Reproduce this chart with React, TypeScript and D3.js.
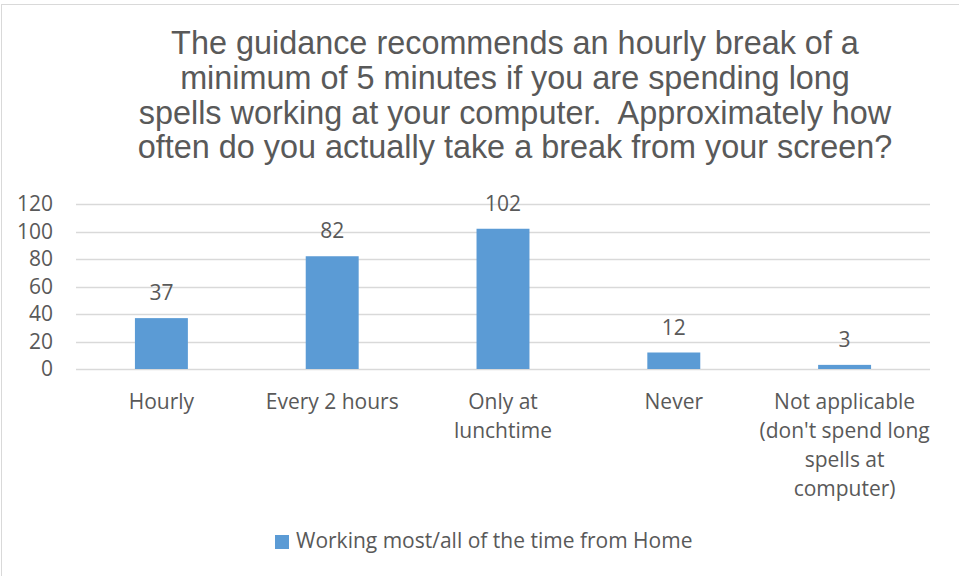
import React from 'react';
import * as d3 from 'd3';

const categories = ['Hourly', 'Every 2 hours', 'Only at lunchtime', 'Never', "Not applicable (don't spend long spells at computer)"];
const categoryLines = [
  ['Hourly'],
  ['Every 2 hours'],
  ['Only at', 'lunchtime'],
  ['Never'],
  ['Not applicable', "(don't spend long", 'spells at', 'computer)'],
];
const values = [37, 82, 102, 12, 3];
const yTicks = [0, 20, 40, 60, 80, 100, 120];
const titleLines = [
  'The guidance recommends an hourly break of a',
  'minimum of 5 minutes if you are spending long',
  'spells working at your computer.\u00A0 Approximately how',
  'often do you actually take a break from your screen?',
];
const seriesName = 'Working most/all of the time from Home';

const W = 959;
const H = 576;
const TEXT = '#595959';
const GRID = '#D9D9D9';
const BAR = '#5B9BD5';
const LABEL_FONT = '"Open Sans", Lato, sans-serif';
const LABEL_SIZE = 21;
const TITLE_FONT = '"Liberation Sans", Arial, sans-serif';

export default function App() {
  const plot = { left: 76, right: 930, top: 204, bottom: 369 };

  const x = d3.scaleBand<string>()
    .domain(categories)
    .range([plot.left, plot.right])
    .paddingInner(0.69)
    .paddingOuter(0.345);

  const y = d3.scaleLinear()
    .domain([0, 120])
    .range([plot.bottom, plot.top]);

  const bw = x.bandwidth();

  return (
    <svg width={W} height={H} style={{ position: 'absolute', left: 0, top: 0, background: '#fff' }}>
      {/* рамка области диаграммы */}
      <rect x={1.5} y={4.5} width={W + 20} height={H + 20} fill="#fff" stroke={GRID} strokeWidth={1} />

      {/* заголовок */}
      <g fill={TEXT} fontFamily={TITLE_FONT} fontSize={32.4} textAnchor="middle">
        {titleLines.map((t, i) => (
          <text key={i} x={515} y={54 + i * 34.8}>{t}</text>
        ))}
      </g>

      {/* сетка и подписи оси Y */}
      {yTicks.map(t => (
        <g key={t}>
          <line x1={plot.left} x2={plot.right} y1={Math.round(y(t)) + 0.5} y2={Math.round(y(t)) + 0.5} stroke={GRID} strokeWidth={1.5} />
          <text x={53} y={y(t)} dy="0.35em" textAnchor="end" fill={TEXT} fontFamily={LABEL_FONT} fontSize={LABEL_SIZE}>{t}</text>
        </g>
      ))}

      {/* столбцы */}
      {categories.map((c, i) => (
        <rect key={c} x={x(c)} y={y(values[i])} width={bw} height={y(0) - y(values[i])} fill={BAR} />
      ))}

      {/* подписи значений */}
      {categories.map((c, i) => (
        <text key={c} x={(x(c) ?? 0) + bw / 2} y={y(values[i]) - 18} textAnchor="middle" fill={TEXT} fontFamily={LABEL_FONT} fontSize={LABEL_SIZE}>
          {values[i]}
        </text>
      ))}

      {/* подписи категорий */}
      {categories.map((c, i) => (
        <text key={c} textAnchor="middle" fill={TEXT} fontFamily={LABEL_FONT} fontSize={LABEL_SIZE}>
          {categoryLines[i].map((l, j) => (
            <tspan key={j} x={(x(c) ?? 0) + bw / 2} y={409 + j * 29}>{l}</tspan>
          ))}
        </text>
      ))}

      {/* легенда */}
      <rect x={275} y={535} width={14} height={14} fill={BAR} />
      <text x={296} y={548} fill={TEXT} fontFamily={LABEL_FONT} fontSize={LABEL_SIZE}>{seriesName}</text>
    </svg>
  );
}
